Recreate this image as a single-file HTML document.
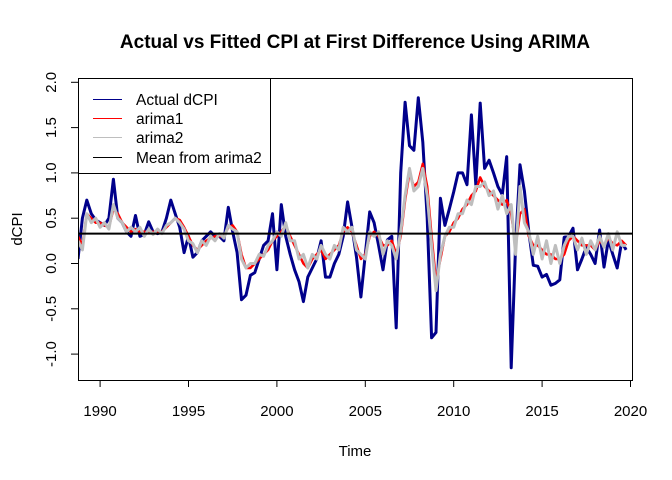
<!DOCTYPE html>
<html><head><meta charset="utf-8"><style>
body{margin:0;background:#fff;}
svg{display:block;font-family:"Liberation Sans",Arial,sans-serif;}
</style></head><body>
<svg id="chart" width="672" height="480">
<text x="355" y="48" text-anchor="middle" font-size="19" font-weight="bold">Actual vs Fitted CPI at First Difference Using ARIMA</text>
<text x="355" y="456" text-anchor="middle" font-size="15">Time</text>
<text transform="translate(22,229) rotate(-90)" text-anchor="middle" font-size="15">dCPI</text>
<defs><clipPath id="pc"><rect x="78" y="78" width="554" height="302"/></clipPath></defs>
<g id="marks" clip-path="url(#pc)"></g>
<g id="axes"></g>
<rect x="78.5" y="78.5" width="554" height="302" fill="none" stroke="#000"/>
<g shape-rendering="crispEdges">
<rect x="78.5" y="78.5" width="192" height="95" fill="#fff" stroke="#000"/>
<line x1="93" x2="122" y1="99.5" y2="99.5" stroke="#00008B"/>
<text x="136" y="105" font-size="15.5">Actual dCPI</text>
<line x1="93" x2="122" y1="118.5" y2="118.5" stroke="#f00"/>
<text x="136" y="124" font-size="15.5">arima1</text>
<line x1="93" x2="122" y1="137.5" y2="137.5" stroke="#bebebe"/>
<text x="136" y="143" font-size="15.5">arima2</text>
<line x1="93" x2="122" y1="157.5" y2="157.5" stroke="#000"/>
<text x="136" y="163" font-size="15.5">Mean from arima2</text>
</g>
</svg>
<script>
const startYear = 1988.75;
const actual = [0.05,
0.5,0.7,0.55,0.48, 0.45,0.42,0.5,0.93, 0.5,0.45,0.35,0.3, 0.53,0.3,0.32,0.46,
0.35,0.33,0.35,0.5, 0.7,0.55,0.4,0.12, 0.3,0.07,0.12,0.25, 0.3,0.35,0.3,0.3,
0.25,0.62,0.35,0.12, -0.4,-0.35,-0.13,-0.1, 0.05,0.2,0.25,0.55, -0.07,0.65,0.3,0.1,
-0.07,-0.2,-0.42,-0.15, -0.05,0.05,0.25,-0.15, -0.15,0.0,0.1,0.3, 0.68,0.4,0.07,-0.37,
0.1,0.57,0.45,0.2, -0.07,0.26,0.3,-0.71, 1.0,1.78,1.3,1.25, 1.83,1.34,0.5,-0.82,
-0.76,0.72,0.42,0.6, 0.79,1.0,1.0,0.87, 1.64,0.87,1.77,1.05, 1.14,1.0,0.85,0.76,
1.18,-1.15,0.2,1.09, 0.8,0.35,-0.02,-0.03, -0.15,-0.12,-0.24,-0.22, -0.18,0.29,0.3,0.39,
-0.07,0.05,0.18,0.1, 0.0,0.37,-0.04,0.26, 0.1,-0.05,0.24,0.15];
const arima1 = [0.3,
0.2,0.55,0.5,0.45, 0.45,0.42,0.4,0.6, 0.55,0.45,0.4,0.35, 0.38,0.35,0.35,0.35,
0.35,0.35,0.35,0.4, 0.45,0.5,0.48,0.4, 0.3,0.2,0.15,0.2, 0.25,0.28,0.3,0.3,
0.3,0.4,0.42,0.35, 0.1,-0.05,-0.05,0.0, 0.05,0.1,0.15,0.25, 0.3,0.35,0.42,0.3,
0.2,0.1,0.0,-0.05, 0.05,0.1,0.15,0.05, 0.1,0.15,0.2,0.35, 0.4,0.35,0.2,0.05,
0.1,0.3,0.35,0.3, 0.2,0.2,0.25,0.1, 0.3,0.7,1.0,0.85, 0.9,1.1,0.85,0.3,
-0.2,0.05,0.3,0.35, 0.45,0.5,0.6,0.65, 0.75,0.8,0.95,0.85, 0.8,0.75,0.7,0.65,
0.7,0.55,0.2,0.55, 0.6,0.3,0.2,0.2, 0.15,0.1,0.1,0.05, 0.05,0.1,0.25,0.3,
0.25,0.2,0.2,0.2, 0.15,0.25,0.2,0.28, 0.22,0.2,0.25,0.2];
const arima2 = [0.25,
0.15,0.55,0.45,0.5, 0.4,0.45,0.38,0.65, 0.5,0.45,0.35,0.4, 0.35,0.4,0.3,0.38,
0.32,0.38,0.33,0.42, 0.45,0.5,0.45,0.38, 0.25,0.22,0.12,0.25, 0.2,0.3,0.25,0.33,
0.28,0.42,0.38,0.35, 0.05,-0.05,0.0,0.0, 0.1,0.08,0.2,0.25, 0.35,0.3,0.45,0.25,
0.25,0.05,0.1,-0.05, 0.1,0.05,0.2,0.1, 0.05,0.2,0.15,0.4, 0.35,0.4,0.15,0.1,
0.05,0.35,0.3,0.35, 0.1,0.25,0.2,0.05, 0.35,0.75,1.05,0.8, 0.85,1.05,0.75,0.2,
-0.3,0.1,0.3,0.4, 0.4,0.55,0.55,0.7, 0.65,0.85,0.85,0.9, 0.75,0.8,0.6,0.75,
0.55,0.65,0.1,0.85, 0.45,0.35,0.1,0.3, 0.05,0.25,0.0,0.2, 0.0,0.2,0.3,0.3,
0.15,0.28,0.1,0.25, 0.15,0.3,0.18,0.33, 0.15,0.35,0.2,0.2];
const meanValue = 0.33;
const yTicks = [-1.0,-0.5,0.0,0.5,1.0,1.5,2.0];
const yTickLabels = ["-1.0","-0.5","0.0","0.5","1.0","1.5","2.0"];
const xTicks = [1990,1995,2000,2005,2010,2015,2020];

const NS = "http://www.w3.org/2000/svg";
const xs = t => 78 + (t - 1988.75) * 17.68;
const ys = v => 263.5 - v * 90.6;
const marks = document.getElementById('marks');
const axes = document.getElementById('axes');
function mk(tag, attrs, parent){const e=document.createElementNS(NS,tag);for(const k in attrs)e.setAttribute(k,attrs[k]);parent.appendChild(e);return e;}
function series(vals, color, w, name){
  const d = vals.map((v,i)=>(i?'L':'M')+xs(startYear+i*0.25).toFixed(1)+','+ys(v).toFixed(1)).join('');
  const p = mk('path',{d:d,fill:'none',stroke:color,'stroke-width':w,'stroke-linejoin':'round'},marks);
  
  
}
series(actual,'#00008B',3,'actual-dcpi-line');
series(arima1,'#ff0000',2.5,'arima1-line');
series(arima2,'#bebebe',3,'arima2-line');
const ml = mk('line',{x1:78,x2:632,y1:ys(meanValue),y2:ys(meanValue),stroke:'#000','stroke-width':2},marks);



yTicks.forEach((v,i)=>{
  const y=ys(v);
  const tk=mk('line',{x1:71,x2:78,y1:y,y2:y,stroke:'#000'},axes);
  
  
  const t=mk('text',{transform:`translate(56,${y}) rotate(-90)`,'text-anchor':'middle','font-size':15},axes);
  t.textContent=yTickLabels[i];
  
  
});
xTicks.forEach(v=>{
  const x=xs(v);
  const tk=mk('line',{x1:x,x2:x,y1:380,y2:387,stroke:'#000'},axes);
  
  
  const t=mk('text',{x:x,y:416,'text-anchor':'middle','font-size':15},axes);
  t.textContent=String(v);
  
  
});
</script>
</body></html>
